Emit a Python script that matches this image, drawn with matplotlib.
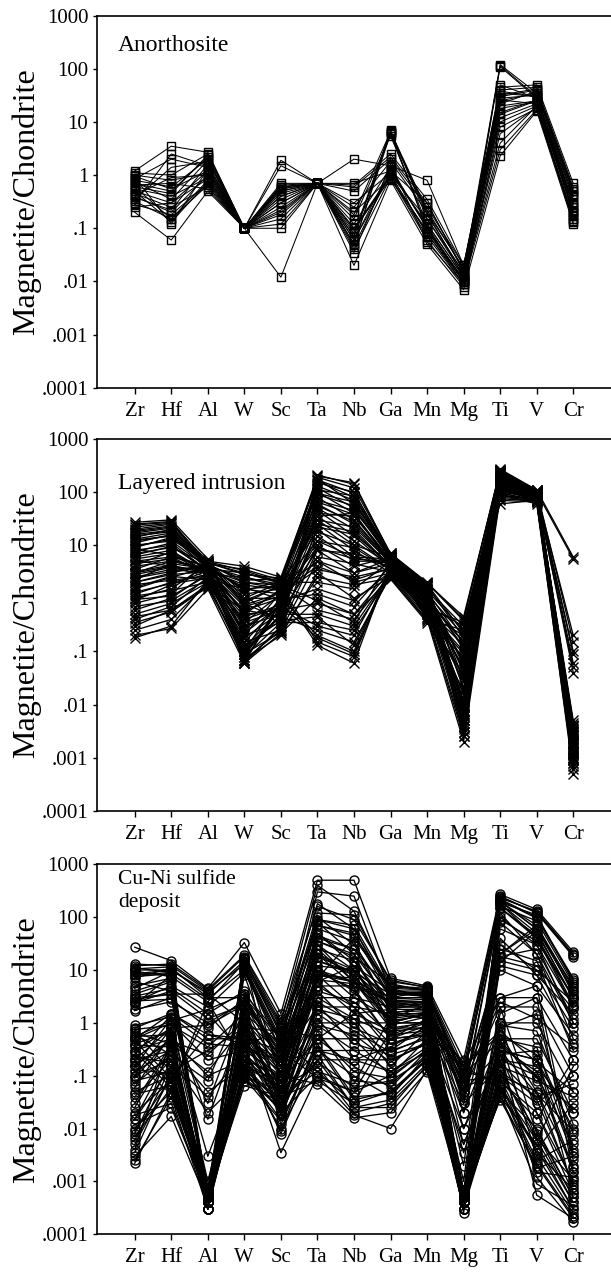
import matplotlib
matplotlib.use("Agg")
import matplotlib.pyplot as plt
from matplotlib.ticker import FixedLocator, NullLocator

plt.rcParams['font.family'] = ['Liberation Serif', 'DejaVu Serif']

elements = ["Zr", "Hf", "Al", "W", "Sc", "Ta", "Nb", "Ga", "Mn", "Mg", "Ti", "V", "Cr"]
ytick_values = [1e-4, 1e-3, 1e-2, 1e-1, 1, 10, 100, 1000]
ytick_labels = [".0001", ".001", ".01", ".1", "1", "10", "100", "1000"]

# Anorthosite (squares) : Zr Hf Al W Sc Ta Nb Ga Mn Mg Ti V Cr
anorthosite = [
    [0.5, 0.3, 1.2, 0.1, 0.4, 0.7, 0.08, 6.5, 0.2, 0.012, 115, 30, 0.3],
    [0.8, 0.6, 2.0, 0.1, 0.6, 0.7, 0.07, 7.0, 0.15, 0.015, 120, 35, 0.5],
    [0.4, 0.2, 1.0, 0.1, 0.3, 0.7, 0.05, 6.0, 0.1, 0.01, 110, 28, 0.2],
    [1.2, 3.5, 2.7, 0.1, 1.9, 0.7, 2.0, 1.5, 0.8, 0.02, 45, 50, 0.7],
    [0.2, 0.06, 0.5, 0.1, 0.012, 0.7, 0.02, 0.8, 0.05, 0.007, 2.3, 16, 0.12],
    [0.3, 2.5, 1.5, 0.1, 1.5, 0.7, 0.7, 1.2, 0.3, 0.015, 30, 40, 0.5],
    [0.6, 0.15, 0.8, 0.1, 0.15, 0.7, 0.1, 1.0, 0.08, 0.01, 4, 20, 0.15],
    [0.35, 1.4, 1.8, 0.1, 0.6, 0.7, 0.5, 2.0, 0.25, 0.02, 25, 35, 0.4],
    [1.0, 0.8, 1.1, 0.1, 0.5, 0.7, 0.25, 1.8, 0.2, 0.018, 35, 30, 0.35],
    [0.7, 0.5, 2.2, 0.1, 0.2, 0.7, 0.15, 5.5, 0.12, 0.012, 20, 25, 0.25],
    [0.45, 0.25, 0.6, 0.1, 0.12, 0.7, 0.04, 0.9, 0.07, 0.009, 8, 18, 0.15],
    [0.9, 0.12, 1.3, 0.1, 0.35, 0.7, 0.06, 1.3, 0.1, 0.011, 12, 22, 0.2],
    [0.55, 0.4, 0.9, 0.1, 0.25, 0.7, 0.09, 1.0, 0.15, 0.013, 15, 26, 0.3],
    [0.28, 0.18, 0.7, 0.1, 0.5, 0.7, 0.12, 1.4, 0.1, 0.01, 18, 24, 0.22],
    [1.1, 1.0, 2.5, 0.1, 0.7, 0.7, 0.6, 2.2, 0.3, 0.016, 40, 45, 0.6],
    [0.38, 0.22, 1.6, 0.1, 0.3, 0.7, 0.05, 6.8, 0.09, 0.01, 28, 32, 0.18],
    [0.65, 0.7, 0.55, 0.1, 0.45, 0.7, 0.2, 0.9, 0.06, 0.008, 10, 20, 0.13],
    [0.75, 0.35, 1.9, 0.1, 0.55, 0.7, 0.07, 6.2, 0.18, 0.014, 22, 38, 0.45],
    [0.32, 0.15, 0.65, 0.1, 0.18, 0.7, 0.035, 1.6, 0.055, 0.009, 3, 17, 0.14],
    [0.85, 2.0, 1.4, 0.1, 0.65, 0.7, 0.3, 1.1, 0.12, 0.012, 50, 28, 0.28],
    [0.42, 0.9, 1.0, 0.1, 0.4, 0.7, 0.1, 0.85, 0.09, 0.011, 26, 22, 0.2],
    [0.6, 0.45, 2.4, 0.1, 0.55, 0.7, 0.18, 6.6, 0.22, 0.017, 32, 42, 0.55],
    [0.5, 0.13, 0.75, 0.1, 0.1, 0.7, 0.045, 1.2, 0.11, 0.01, 6, 19, 0.17],
    [0.95, 0.55, 1.2, 0.1, 0.6, 0.7, 0.65, 2.5, 0.35, 0.02, 38, 30, 0.4],
    [0.25, 0.3, 0.85, 0.1, 0.22, 0.7, 0.06, 1.0, 0.08, 0.009, 14, 25, 0.25],
]

# Layered intrusion (x markers)
layered = [
    [25, 28, 4.5, 3.5, 2.2, 200, 150, 6.5, 1.9, 0.45, 250, 100, 5.5],
    [20, 25, 5.0, 4.0, 2.5, 180, 60, 7.0, 2.0, 0.4, 270, 110, 6.0],
    [15, 18, 4.0, 2.5, 1.8, 120, 50, 5.5, 1.5, 0.3, 200, 95, 0.2],
    [12, 15, 3.5, 2.0, 1.5, 100, 40, 5.0, 1.4, 0.25, 180, 90, 0.1],
    [10, 12, 3.8, 1.5, 1.2, 80, 30, 4.8, 1.2, 0.2, 160, 85, 0.05],
    [8, 10, 3.2, 1.0, 1.0, 60, 25, 4.5, 1.0, 0.15, 150, 90, 0.04],
    [6, 8, 3.0, 0.08, 0.8, 50, 20, 4.0, 0.9, 0.008, 140, 85, 0.003],
    [5, 6, 2.8, 0.07, 0.7, 45, 15, 3.8, 0.8, 0.006, 130, 80, 0.002],
    [4, 5, 3.5, 0.06, 0.9, 35, 12, 4.2, 0.7, 0.005, 120, 75, 0.0015],
    [3, 4, 2.5, 0.1, 1.1, 30, 10, 3.5, 0.6, 0.004, 110, 70, 0.001],
    [2.5, 3.5, 3.0, 0.2, 1.3, 25, 8, 3.0, 0.5, 0.003, 100, 65, 0.0008],
    [2.0, 3.0, 4.2, 0.3, 0.5, 20, 6, 4.0, 0.45, 0.0025, 90, 60, 0.0006],
    [1.5, 2.5, 3.8, 0.5, 0.6, 15, 5, 5.0, 0.4, 0.002, 80, 70, 0.0005],
    [1.0, 1.5, 4.5, 0.8, 0.4, 10, 4, 6.0, 1.0, 0.01, 200, 100, 0.004],
    [0.8, 1.2, 5.0, 1.2, 0.3, 8, 3, 5.5, 1.5, 0.02, 220, 95, 0.005],
    [0.5, 0.8, 2.0, 0.15, 0.25, 5, 2, 3.0, 0.8, 0.05, 180, 90, 0.003],
    [0.3, 0.6, 1.8, 0.07, 0.2, 3, 1, 2.5, 0.6, 0.1, 150, 85, 0.002],
    [0.2, 0.27, 1.5, 0.06, 0.22, 1, 0.5, 2.3, 0.35, 0.08, 100, 80, 0.0012],
    [0.18, 0.3, 2.2, 0.1, 0.5, 0.5, 0.3, 3.0, 0.5, 0.2, 130, 85, 0.001],
    [0.4, 0.7, 2.5, 0.4, 0.7, 0.3, 0.2, 3.5, 0.7, 0.3, 160, 90, 0.0009],
    [0.6, 1.0, 3.0, 0.6, 1.0, 0.2, 0.1, 4.0, 0.9, 0.15, 120, 80, 0.0015],
    [0.9, 1.8, 3.3, 1.8, 1.4, 0.13, 0.06, 4.5, 1.1, 0.12, 110, 75, 0.0025],
    [1.2, 2.0, 2.8, 2.5, 1.6, 0.15, 0.08, 3.8, 1.3, 0.04, 140, 95, 0.004],
    [2.2, 4.5, 3.6, 3.0, 2.0, 2.0, 1.5, 5.0, 1.6, 0.03, 190, 100, 0.0035],
    [3.5, 6.0, 4.0, 0.5, 1.5, 5.0, 3.0, 4.5, 1.2, 0.01, 170, 90, 0.002],
    [7, 9, 4.5, 0.8, 1.8, 12, 6, 5.5, 1.4, 0.007, 210, 100, 0.0018],
    [9, 14, 4.8, 1.0, 2.0, 18, 10, 6.0, 1.6, 0.005, 230, 105, 0.0013],
    [11, 16, 3.9, 0.12, 0.6, 40, 35, 5.2, 1.8, 0.004, 240, 110, 0.0011],
    [14, 20, 4.2, 0.09, 0.5, 70, 45, 6.5, 1.7, 0.003, 260, 100, 0.0009],
    [18, 22, 3.7, 0.06, 0.3, 150, 100, 6.0, 1.5, 0.0025, 250, 95, 0.0007],
    [22, 26, 4.0, 0.07, 0.25, 210, 140, 7.0, 1.8, 0.02, 230, 100, 0.001],
    [27, 30, 5.5, 0.2, 0.35, 160, 80, 6.0, 1.3, 0.06, 220, 95, 0.002],
    [1.8, 2.2, 2.6, 0.25, 0.9, 1.5, 0.9, 3.2, 0.55, 0.09, 90, 70, 0.003],
    [2.8, 3.8, 3.4, 0.35, 1.2, 3.5, 2.5, 3.6, 0.75, 0.07, 110, 80, 0.0045],
    [4.5, 5.5, 3.1, 0.15, 0.8, 8, 7, 4.3, 0.95, 0.03, 125, 85, 0.0028],
    [5.5, 7.0, 2.7, 0.09, 0.65, 25, 18, 3.9, 0.85, 0.015, 135, 88, 0.0022],
    [0.35, 0.55, 1.7, 0.6, 0.45, 0.25, 0.15, 2.6, 0.4, 0.25, 70, 65, 0.0012],
    [0.7, 0.9, 2.3, 1.5, 1.7, 0.6, 0.4, 2.8, 0.65, 0.35, 60, 70, 0.001],
    [13, 17, 4.3, 2.2, 2.3, 90, 55, 5.8, 1.75, 0.18, 200, 100, 0.09],
    [16, 19, 4.6, 3.0, 1.9, 130, 70, 6.2, 1.85, 0.22, 240, 105, 0.06],
    [7.5, 11, 3.3, 0.7, 1.1, 30, 22, 4.7, 1.25, 0.012, 175, 95, 0.0032],
    [3.2, 4.2, 2.9, 0.45, 0.75, 12, 9, 3.4, 0.8, 0.009, 145, 85, 0.0019],
    [1.3, 1.9, 2.4, 0.18, 0.55, 6, 4.5, 3.1, 0.7, 0.006, 115, 78, 0.0016],
    [0.25, 0.4, 1.9, 0.08, 0.35, 0.35, 0.25, 2.7, 0.45, 0.035, 95, 72, 0.0014],
    [2.0, 2.8, 3.2, 1.2, 1.5, 55, 28, 4.6, 1.15, 0.11, 185, 92, 0.0024],
    [24, 27, 4.4, 0.9, 1.7, 190, 120, 6.8, 1.9, 0.009, 265, 105, 0.0012],
    [19, 23, 4.1, 1.4, 2.1, 110, 85, 6.3, 1.7, 0.005, 245, 100, 0.0009],
    [17, 21, 3.6, 0.11, 0.45, 95, 65, 5.6, 1.45, 0.0035, 215, 92, 0.0016],
    [9.5, 13, 4.7, 2.8, 2.4, 65, 38, 5.3, 1.35, 0.14, 195, 98, 0.0021],
    [6.5, 9.5, 3.4, 0.065, 0.28, 22, 16, 4.4, 1.05, 0.0045, 165, 88, 0.0013],
    [4.2, 7.5, 2.9, 0.55, 1.35, 4.0, 2.2, 3.7, 0.95, 0.045, 150, 82, 0.0027],
    [3.0, 5.0, 3.7, 1.6, 0.95, 1.2, 0.7, 4.1, 0.88, 0.065, 135, 84, 0.0033],
    [1.6, 2.6, 2.2, 0.35, 0.6, 0.8, 0.5, 3.3, 0.62, 0.13, 105, 76, 0.0019],
    [1.1, 1.4, 2.0, 0.13, 0.38, 0.45, 0.13, 2.9, 0.55, 0.028, 85, 74, 0.0011],
    [0.45, 0.6, 1.6, 0.09, 0.23, 2.5, 1.8, 2.4, 0.38, 0.018, 75, 68, 0.0008],
    [12.5, 15, 4.9, 3.3, 2.0, 170, 95, 6.6, 1.95, 0.38, 255, 108, 0.15],
    [8.5, 6.5, 3.9, 0.75, 1.25, 9, 5.5, 4.9, 1.1, 0.011, 185, 96, 0.0042],
    [5.2, 4.0, 3.3, 0.28, 0.85, 35, 40, 4.4, 1.0, 0.0075, 160, 87, 0.0031],
    [2.4, 3.2, 4.4, 2.0, 1.75, 0.9, 0.35, 5.2, 1.25, 0.055, 175, 97, 0.0038],
    [0.95, 1.1, 2.7, 0.22, 0.75, 0.18, 0.09, 3.3, 0.58, 0.0065, 125, 80, 0.0017],
]

# Cu-Ni sulfide deposit (circles)
cuni = [
    [27, 15, 4.5, 33, 1.5, 500, 500, 7, 5, 0.2, 270, 140, 22],
    [13, 12, 4.0, 18, 1.0, 400, 130, 5, 4.5, 0.15, 250, 120, 18],
    [10, 10, 3.5, 15, 0.8, 180, 60, 4, 4, 0.1, 220, 100, 7],
    [9, 8, 0.0005, 12, 0.5, 100, 30, 3, 3, 0.0005, 200, 60, 5],
    [8, 9, 0.0004, 10, 0.3, 80, 20, 2.5, 2.5, 0.0004, 180, 50, 3],
    [7, 11, 3.0, 3, 0.2, 50, 15, 2, 2, 0.05, 150, 40, 2],
    [5, 7, 0.0006, 2, 0.1, 30, 10, 1.5, 1.5, 0.0003, 100, 30, 1],
    [3.5, 6, 0.0003, 1.5, 0.05, 20, 8, 1, 1, 0.00025, 80, 20, 0.5],
    [3, 3.5, 3.5, 1, 0.03, 10, 6, 0.8, 0.8, 0.03, 25, 15, 0.3],
    [2.8, 3.5, 0.0007, 16, 0.02, 8, 6, 3, 4, 0.0006, 20, 60, 4],
    [2.5, 5, 2.0, 9, 0.4, 6, 12, 4, 3.5, 0.08, 15, 10, 2.5],
    [2.2, 8, 0.0004, 3.5, 0.15, 5, 5, 2.5, 2.5, 0.0004, 12, 8, 1.5],
    [1.8, 2.5, 1.0, 2.5, 0.25, 7, 40, 4.5, 3, 0.02, 10, 5, 0.6],
    [11, 9, 0.0005, 17, 0.6, 120, 110, 6, 4.8, 0.0005, 230, 130, 20],
    [0.8, 1.5, 0.5, 0.5, 0.3, 3, 3, 2, 2, 0.1, 3, 3, 0.2],
    [0.5, 1.0, 0.2, 0.3, 0.2, 2, 2, 1.5, 1.2, 0.05, 2, 2, 0.1],
    [0.3, 0.5, 0.1, 0.2, 0.1, 1, 1, 1, 1, 0.02, 1, 1, 0.05],
    [0.2, 0.3, 0.05, 0.15, 0.08, 0.5, 0.5, 0.5, 0.6, 0.01, 0.5, 0.5, 0.02],
    [0.1, 0.2, 0.02, 0.1, 0.05, 0.3, 0.3, 0.3, 0.5, 0.005, 0.3, 0.2, 0.01],
    [0.05, 0.1, 0.0004, 0.08, 0.03, 0.2, 0.2, 0.2, 0.4, 0.0004, 0.2, 0.1, 0.005],
    [0.02, 0.08, 0.0003, 0.3, 0.02, 0.1, 0.05, 0.1, 0.3, 0.0003, 0.1, 0.05, 0.002],
    [0.01, 0.05, 0.0005, 0.5, 0.04, 0.08, 0.03, 0.05, 0.2, 0.0005, 0.08, 0.02, 0.001],
    [0.005, 0.1, 0.0006, 1.0, 0.06, 0.15, 0.02, 0.03, 0.15, 0.0006, 0.05, 0.01, 0.0005],
    [0.003, 0.017, 0.0004, 0.7, 0.1, 0.07, 0.016, 0.02, 0.12, 0.0004, 0.04, 0.005, 0.0003],
    [0.0022, 0.05, 0.0007, 0.4, 0.0035, 0.1, 0.018, 0.01, 0.13, 0.0007, 0.035, 0.002, 0.0002],
    [0.0025, 0.04, 0.0003, 0.25, 0.008, 0.3, 0.1, 0.04, 0.25, 0.0003, 0.2, 0.0012, 0.00017],
    [0.006, 0.15, 0.0005, 0.2, 0.009, 0.5, 0.15, 0.06, 0.3, 0.0005, 0.3, 0.00055, 0.0002],
    [0.008, 0.2, 0.0006, 0.12, 0.015, 1.5, 0.5, 0.1, 0.5, 0.0004, 0.5, 0.003, 0.00025],
    [0.015, 0.3, 0.0004, 0.09, 0.025, 2.5, 1.0, 0.15, 0.7, 0.0006, 1.0, 0.008, 0.0004],
    [0.03, 0.4, 0.0005, 0.065, 0.04, 5, 2.0, 0.3, 0.9, 0.0005, 2.0, 0.02, 0.0006],
    [0.06, 0.6, 0.0003, 0.15, 0.06, 10, 4, 0.5, 1.2, 0.0004, 0.6, 0.05, 0.0008],
    [0.1, 0.8, 0.0008, 0.3, 0.1, 15, 8, 1.0, 1.5, 0.0007, 0.4, 0.1, 0.0015],
    [0.15, 1.2, 0.001, 0.6, 0.15, 25, 15, 1.5, 2.0, 0.0005, 0.3, 0.2, 0.003],
    [0.25, 1.4, 0.015, 1.2, 0.25, 40, 25, 2.0, 2.5, 0.005, 0.25, 0.3, 0.008],
    [0.4, 0.7, 0.03, 2.0, 0.35, 70, 50, 3.0, 3.0, 0.01, 0.2, 0.15, 0.02],
    [0.6, 0.25, 0.08, 3.0, 0.5, 90, 60, 3.5, 3.5, 0.03, 0.15, 0.08, 0.04],
    [0.7, 0.12, 0.3, 0.8, 0.7, 20, 5, 2.5, 2.0, 0.06, 0.12, 0.04, 0.07],
    [0.45, 0.09, 0.6, 0.4, 0.12, 12, 3, 1.2, 1.5, 0.08, 0.1, 0.03, 0.1],
    [0.35, 0.07, 1.5, 0.25, 0.07, 6, 1.5, 0.7, 0.8, 0.12, 0.08, 0.015, 0.2],
    [0.28, 0.06, 2.5, 0.18, 0.05, 4, 0.8, 0.4, 0.6, 0.15, 0.06, 0.006, 0.15],
    [0.18, 0.045, 0.0005, 0.13, 0.03, 2.2, 0.4, 0.25, 0.4, 0.0006, 0.05, 0.004, 0.03],
    [0.12, 0.3, 0.0004, 0.5, 0.02, 1.2, 0.2, 0.12, 0.35, 0.0005, 0.07, 0.0025, 0.006],
    [0.08, 0.12, 0.0006, 1.8, 0.018, 0.7, 0.08, 0.07, 0.25, 0.0004, 0.04, 0.0018, 0.003],
    [0.04, 0.2, 0.0005, 2.5, 0.012, 0.4, 0.04, 0.045, 0.2, 0.0003, 0.06, 0.0015, 0.0012],
    [0.015, 0.15, 0.0004, 1.3, 0.025, 0.25, 0.025, 0.035, 0.17, 0.0005, 0.09, 0.0035, 0.0007],
    [0.009, 0.09, 0.0003, 0.8, 0.035, 0.18, 0.06, 0.08, 0.22, 0.0004, 0.13, 0.006, 0.0004],
    [9.5, 7.5, 2.5, 14, 0.6, 90, 70, 4.5, 4.2, 0.12, 190, 110, 6],
    [3.2, 4.5, 1.5, 4, 0.35, 15, 9, 3.5, 3.2, 0.06, 20, 70, 3.5],
    [2.6, 2.8, 0.8, 2.8, 0.2, 8, 7, 2.2, 2.6, 0.04, 150, 45, 2.2],
    [4.5, 9.5, 0.0006, 11, 0.45, 35, 18, 5.5, 4.0, 0.0005, 18, 25, 1.2],
    [0.9, 1.3, 0.4, 0.35, 0.8, 0.5, 1.5, 1.8, 1.8, 0.15, 0.6, 0.25, 0.0006],
    [0.65, 0.4, 0.12, 0.9, 0.15, 4, 2.5, 0.6, 1.0, 0.18, 3, 5, 0.0025],
    [0.025, 0.35, 0.0007, 0.6, 0.05, 0.9, 0.6, 0.18, 0.45, 0.0006, 0.8, 1.5, 0.004],
    [0.004, 0.5, 0.0004, 0.35, 0.08, 1.8, 1.2, 0.6, 0.7, 0.0005, 1.5, 3.0, 0.0015],
    [0.012, 0.025, 0.0005, 0.1, 0.04, 0.12, 0.03, 0.5, 0.6, 0.0004, 0.045, 0.0009, 0.00035],
    [0.2, 0.8, 0.003, 0.2, 0.06, 50, 12, 0.8, 1.0, 0.001, 200, 60, 4],
    [0.5, 1.5, 0.6, 0.5, 0.2, 30, 6, 1.0, 1.5, 0.002, 180, 40, 3],
    [0.15, 0.5, 0.0005, 0.25, 0.03, 8, 2, 0.4, 0.7, 0.0004, 60, 30, 2],
    [0.07, 0.25, 0.0004, 0.15, 0.02, 3, 1.2, 0.2, 0.4, 0.0005, 30, 10, 0.8],
    [6, 4, 0.0006, 8, 0.1, 25, 6, 1.2, 2.2, 0.0004, 40, 8, 0.4],
    [12, 13, 4.3, 19, 1.2, 160, 90, 6.5, 4.6, 0.0006, 240, 125, 19],
    [10.5, 11.5, 0.0004, 16, 0.9, 70, 45, 4.8, 4.3, 0.0005, 210, 95, 6.5],
    [8.5, 10, 3.8, 13, 0.7, 45, 25, 3.6, 3.8, 0.09, 195, 70, 4.5],
    [4, 6.5, 0.0005, 3.2, 0.25, 12, 10, 2.8, 3.1, 0.0004, 90, 35, 3.2],
    [2.4, 4, 1.2, 2.2, 0.18, 6.5, 5.5, 2.6, 2.8, 0.035, 18, 12, 1.8],
    [1.7, 3, 0.0006, 17, 0.09, 9, 6, 1.8, 2.4, 0.0005, 14, 55, 2.8],
    [0.75, 0.9, 0.35, 1.5, 0.4, 18, 9, 2.2, 2.2, 0.07, 2.5, 1.2, 0.35],
    [0.55, 0.6, 0.0004, 0.7, 0.12, 60, 35, 1.6, 1.7, 0.0004, 0.9, 0.7, 0.012],
    [0.38, 0.35, 0.0005, 0.45, 0.08, 35, 20, 0.9, 1.3, 0.0006, 0.5, 0.35, 0.0035],
    [0.22, 0.18, 0.04, 0.28, 0.045, 9, 4.5, 0.5, 0.9, 0.0035, 0.35, 0.12, 0.0018],
    [0.13, 0.11, 0.0003, 0.16, 0.028, 1.8, 0.7, 0.28, 0.55, 0.0003, 0.18, 0.035, 0.0009],
    [0.045, 0.065, 0.0004, 0.11, 0.022, 0.6, 0.12, 0.09, 0.32, 0.0004, 0.11, 0.009, 0.0005],
    [0.018, 0.03, 0.0005, 0.09, 0.014, 0.35, 0.035, 0.05, 0.21, 0.0006, 0.07, 0.004, 0.0003],
    [0.007, 0.06, 0.0006, 0.14, 0.01, 0.2, 0.025, 0.025, 0.16, 0.0005, 0.055, 0.0022, 0.00022],
    [0.0035, 0.12, 0.0003, 0.6, 0.02, 0.9, 0.3, 0.12, 0.28, 0.0004, 0.25, 0.0065, 0.0011],
    [0.55, 1.1, 1.8, 3.5, 0.55, 0.12, 0.07, 1.3, 1.6, 0.16, 0.7, 0.18, 0.05],
    [0.3, 0.8, 0.9, 2.2, 0.3, 0.09, 0.05, 0.7, 1.1, 0.11, 0.45, 0.09, 0.025],
    [0.16, 0.45, 0.25, 1.1, 0.18, 0.3, 0.2, 0.35, 0.85, 0.05, 0.3, 0.045, 0.009],
    [7.5, 8.5, 2.8, 10, 0.4, 300, 250, 3.8, 3.3, 0.1, 160, 85, 5.5],
    [0.09, 0.55, 0.0005, 0.9, 0.04, 20, 10, 1.1, 1.4, 0.0005, 120, 20, 1.0],
]

panels = [
    ("Anorthosite", anorthosite, "s", 6.0, 17.0, 0.904, 0.75),
    ("Layered intrusion", layered, "x", 6.8, 17.0, 0.865, 0.95),
    ("Cu-Ni sulfide\ndeposit", cuni, "o", 6.5, 15.5, 0.885, 0.95),
]

W, H = 611, 1275
fig = plt.figure(figsize=(W / 100, H / 100), dpi=100)

# axes boxes in pixels: (top, bottom)
boxes = [(15.7, 387.7), (439.0, 810.7), (864.3, 1234.3)]
left_px = 96.7

xs = list(range(len(elements)))
for (title, rows, marker, ms, tsize, ty, lw), (top, bot) in zip(panels, boxes):
    ax = fig.add_axes([left_px / W, 1 - bot / H, 1 - left_px / W + 0.01, (bot - top) / H])
    for row in rows:
        ax.plot(xs, row, color="black", lw=lw, marker=marker, ms=ms,
                mfc="none", mec="black", mew=1.0)
    ax.set_yscale("log")
    ax.set_ylim(1e-4, 1e3)
    ax.set_xlim(-1.04, 13.2)
    ax.yaxis.set_major_locator(FixedLocator(ytick_values))
    ax.yaxis.set_minor_locator(NullLocator())
    ax.set_yticklabels(ytick_labels)
    ax.set_xticks(xs)
    ax.set_xticklabels(elements)
    ax.tick_params(axis="y", direction="out", length=3, width=1.0, labelsize=15, pad=3)
    ax.tick_params(axis="x", direction="out", length=4, width=1.0, labelsize=15, pad=6)
    for s in ("left", "bottom", "top"):
        ax.spines[s].set_linewidth(1.2)
    ax.spines["right"].set_visible(False)
    ax.set_ylabel("Magnetite/Chondrite", fontsize=23, labelpad=0)
    ax.text((118 - left_px) / (W - left_px), ty, title, transform=ax.transAxes,
            fontsize=tsize, ha="left", va="baseline", linespacing=1.3)

fig.savefig("out.png", dpi=100)
